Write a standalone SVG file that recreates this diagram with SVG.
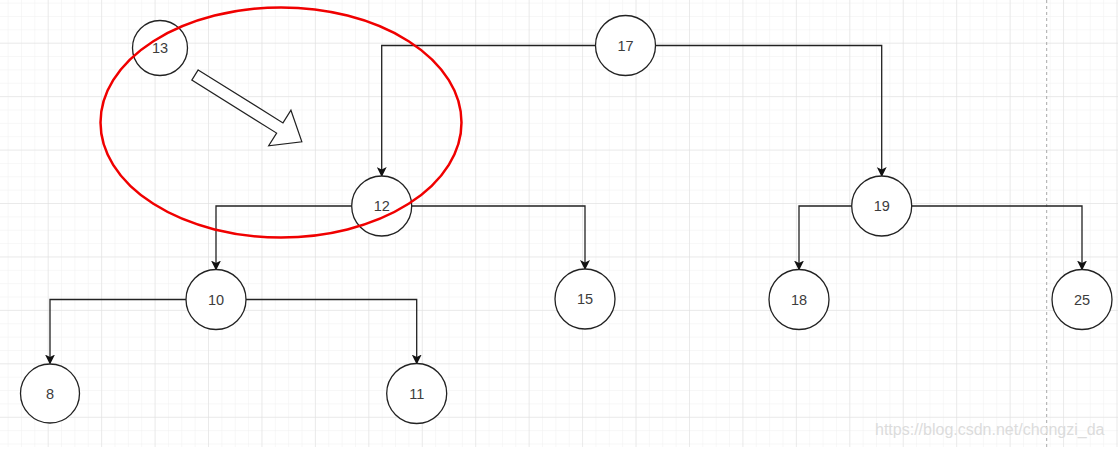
<svg xmlns="http://www.w3.org/2000/svg" width="1118" height="454" viewBox="0 0 1118 454">
<style>
.node circle{fill:#fff;stroke:#222;stroke-width:1.3}
.node text{font-family:"Liberation Sans",Arial,sans-serif;font-size:14.5px;fill:#3c3c3c;text-anchor:middle;dominant-baseline:central}
.edge{fill:none;stroke:#222;stroke-width:1.3;marker-end:url(#arr)}
</style>
<defs>
<pattern id="minor" x="47.7" y="42.7" width="13.36" height="13.36" patternUnits="userSpaceOnUse">
<path d="M0 0H13.36M0 0V13.36" fill="none" stroke="#f0f0f0" stroke-width="1"/>
</pattern>
<pattern id="major" x="47.7" y="42.7" width="53.44" height="53.44" patternUnits="userSpaceOnUse">
<path d="M0 0H53.44M0 0V53.44" fill="none" stroke="#dedede" stroke-width="1"/>
</pattern>
<marker id="arr" viewBox="0 0 10 10" refX="9" refY="5" markerWidth="10" markerHeight="10" markerUnits="userSpaceOnUse" orient="auto">
<path d="M0 0L10 5L0 10L2.5 5Z" fill="#111"/>
</marker>
</defs>
<rect width="1118" height="454" fill="#fff"/>
<rect width="1118" height="447" fill="url(#minor)"/>
<rect width="1118" height="447" fill="url(#major)"/>
<line x1="1046.7" y1="0" x2="1046.7" y2="447" stroke="#a8a8a8" stroke-width="1" stroke-dasharray="3,3"/>
<g id="connectors">
<path class="edge" d="M595.5 45.5H381.7V176"/>
<path class="edge" d="M655.5 45.5H881.7V176"/>
<path class="edge" d="M351.7 206H216V269.5"/>
<path class="edge" d="M411.7 206H585V269"/>
<path class="edge" d="M186 299.5H50V363.5"/>
<path class="edge" d="M246 299.5H416.7V363.5"/>
<path class="edge" d="M851.7 206H799V269.5"/>
<path class="edge" d="M911.7 206H1082V269.5"/>
</g>
<g id="n13" class="node"><circle cx="160" cy="48" r="27.5"/><text x="160" y="48">13</text></g>
<g id="n17" class="node"><circle cx="625.5" cy="45.5" r="30"/><text x="625.5" y="45.5">17</text></g>
<g id="n12" class="node"><circle cx="381.7" cy="206" r="30"/><text x="381.7" y="206">12</text></g>
<g id="n19" class="node"><circle cx="881.7" cy="206" r="30"/><text x="881.7" y="206">19</text></g>
<g id="n10" class="node"><circle cx="216" cy="299.5" r="30"/><text x="216" y="299.5">10</text></g>
<g id="n15" class="node"><circle cx="585" cy="299" r="30"/><text x="585" y="299">15</text></g>
<g id="n18" class="node"><circle cx="799" cy="299.5" r="30"/><text x="799" y="299.5">18</text></g>
<g id="n25" class="node"><circle cx="1082" cy="299.5" r="30"/><text x="1082" y="299.5">25</text></g>
<g id="n8" class="node"><circle cx="50" cy="393.5" r="29.5"/><text x="50" y="393.5">8</text></g>
<g id="n11" class="node"><circle cx="416.7" cy="393.5" r="30"/><text x="416.7" y="393.5">11</text></g>
<g id="block-arrow">
<polygon points="0,-6 100,-6 100,-21 126,0 100,21 100,6 0,6" transform="translate(195,75) rotate(32)" fill="#fff" stroke="#222" stroke-width="1.2" stroke-linejoin="miter"/>
</g>
<g id="highlight">
<ellipse cx="281" cy="122.5" rx="180.5" ry="115" fill="none" stroke="#f00000" stroke-width="2.5"/>
</g>
<text x="875" y="435" font-family="'Liberation Sans',Arial,sans-serif" font-size="16" fill="#dcdcdc">https://blog.csdn.net/chongzi_da</text>
</svg>
